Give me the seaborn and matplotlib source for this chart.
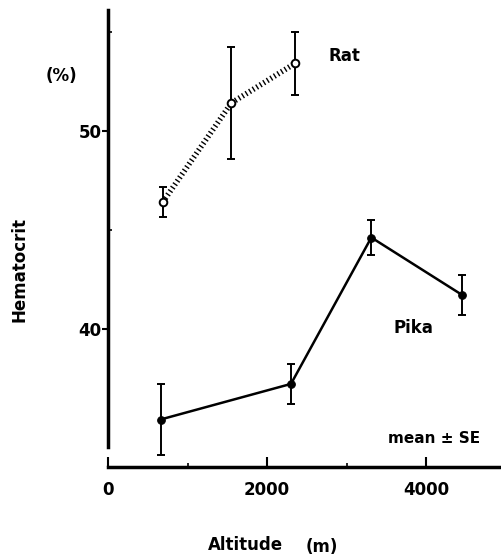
import matplotlib
matplotlib.use("Agg")
import matplotlib.pyplot as plt
import seaborn as sns
import pandas as pd

rat_alt = [690, 1550, 2350]
rat_hct = [46.4, 51.4, 53.4]
rat_se = [0.75, 2.85, 1.6]

pika_alt = [660, 2300, 3310, 4450]
pika_hct = [35.4, 37.2, 44.6, 41.7]
pika_se = [1.8, 1.0, 0.9, 1.0]

x_ticks = [0, 2000, 4000]
y_ticks = [40, 50]

sns.set_style("ticks")
plt.rcParams['font.family'] = ['DejaVu Sans']
plt.rcParams['font.weight'] = 'bold'
plt.rcParams['text.color'] = 'black'
plt.rcParams['xtick.color'] = 'black'
plt.rcParams['ytick.color'] = 'black'
plt.rcParams['axes.edgecolor'] = 'black'

fig = plt.figure(figsize=(5.01, 5.57), dpi=100)
ax = fig.add_axes([108/501, 1-467/557, 1-108/501, (467-10)/557])

rat = pd.DataFrame({"alt": rat_alt, "hct": rat_hct})
pika = pd.DataFrame({"alt": pika_alt, "hct": pika_hct})

ax.errorbar(rat_alt, rat_hct, yerr=rat_se, fmt='none', ecolor='black',
            elinewidth=1.4, capsize=3, capthick=1.4, zorder=2)
ax.errorbar(pika_alt, pika_hct, yerr=pika_se, fmt='none', ecolor='black',
            elinewidth=1.4, capsize=3, capthick=1.4, zorder=2)

sns.lineplot(data=rat, x="alt", y="hct", ax=ax, color='black', lw=4,
             linestyle=(0, (0.25, 0.5)), marker=None, zorder=3)
sns.lineplot(data=rat, x="alt", y="hct", ax=ax, color='black', lw=0,
             marker='o', markersize=5.5, markerfacecolor='white',
             markeredgecolor='black', markeredgewidth=1.4, zorder=4)
sns.lineplot(data=pika, x="alt", y="hct", ax=ax, color='black', lw=1.8,
             marker='o', markersize=5.5, markerfacecolor='black',
             markeredgecolor='black', zorder=4)

ax.set_xlim(0, 4940)
ax.set_ylim(33.0, 56.1)
ax.set_xticks(x_ticks)
ax.set_xticks([1000, 3000], minor=True)
ax.set_yticks(y_ticks)
ax.set_yticks([45, 55], minor=True)
ax.tick_params(axis='x', direction='in', length=7, width=1.5, labelsize=12, pad=10)
ax.tick_params(axis='x', which='minor', direction='in', length=3, width=1.2)
ax.tick_params(axis='y', direction='out', length=4, width=1.5, labelsize=12, pad=0.5)
ax.tick_params(axis='y', which='minor', direction='in', length=3, width=1.2)
for lab in ax.get_xticklabels() + ax.get_yticklabels():
    lab.set_fontweight('bold')

sns.despine(ax=ax)
ax.spines['left'].set_linewidth(2.5)
ax.spines['bottom'].set_linewidth(2.5)
ax.spines['left'].set_bounds(34.0, 56.1)

ax.set_xlabel("")
ax.set_ylabel("")
fig.text(20/501, 1-270/557, "Hematocrit", rotation=90, ha='center', va='center',
         fontsize=12, fontweight='bold')
fig.text(61/501, 1-76/557, "(%)", ha='center', va='center', fontsize=12, fontweight='bold')
fig.text(245/501, 1-545/557, "Altitude", ha='center', va='center', fontsize=12, fontweight='bold')
fig.text(322/501, 1-547/557, "(m)", ha='center', va='center', fontsize=12, fontweight='bold')
ax.text(2775, 53.75, "Rat", ha='left', va='center', fontsize=12, fontweight='bold')
ax.text(3590, 40.05, "Pika", ha='left', va='center', fontsize=12, fontweight='bold')
ax.text(3525, 34.44, "mean \u00b1 SE", ha='left', va='center', fontsize=11, fontweight='bold')

fig.savefig("out.png", dpi=100)
